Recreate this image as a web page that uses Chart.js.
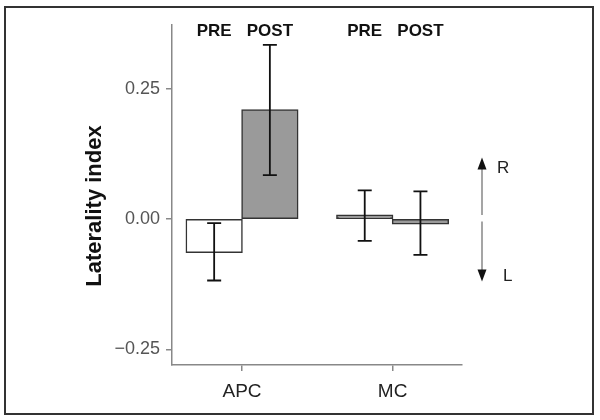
<!DOCTYPE html>
<html>
<head>
<meta charset="utf-8">
<script src="https://cdn.jsdelivr.net/npm/chart.js@4/dist/chart.umd.min.js"></script>
<style>
  html, body { margin: 0; padding: 0; background: #fff; }
  #wrap { position: relative; width: 600px; height: 420px; }
  #frame { position: absolute; left: 4px; top: 6px; width: 590px; height: 409px; box-sizing: border-box; border: 2px solid #333; pointer-events: none; }
  canvas { position: absolute; left: 0; top: 0; }
</style>
</head>
<body>
<div id="wrap">
  <canvas id="c" width="600" height="420"></canvas>
  <div id="frame"></div>
</div>
<script>
// ---- data ----
const categories = ['APC', 'MC'];
const seriesNames = ['PRE', 'POST'];
const preValues = [-0.064, 0.007];
const postValues = [0.209, -0.009];
const preErrLow = [-0.118, -0.042];
const preErrHigh = [-0.008, 0.055];
const postErrLow = [0.084, -0.069];
const postErrHigh = [0.334, 0.053];
const yTickValues = [-0.25, 0, 0.25];
const yTitle = 'Laterality index';
const arrowLabels = ['R', 'L'];

const errLows = [preErrLow, postErrLow];
const errHighs = [preErrHigh, postErrHigh];
const toPoints = vals => vals.map((v, i) => ({ x: i, y: v }));

const FONT = "'Liberation Sans', Arial, sans-serif";

const errorBarPlugin = {
  id: 'errorBars',
  afterDatasetsDraw(chart) {
    const ctx = chart.ctx;
    const ys = chart.scales.y;
    ctx.save();
    ctx.strokeStyle = '#111';
    ctx.lineWidth = 1.8;
    chart.data.datasets.forEach((ds, di) => {
      const meta = chart.getDatasetMeta(di);
      meta.data.forEach((el, i) => {
        const x = el.x;
        const yl = ys.getPixelForValue(errLows[di][i]);
        const yh = ys.getPixelForValue(errHighs[di][i]);
        const cap = 7;
        ctx.beginPath();
        ctx.moveTo(x, yl); ctx.lineTo(x, yh);
        ctx.moveTo(x - cap, yl); ctx.lineTo(x + cap, yl);
        ctx.moveTo(x - cap, yh); ctx.lineTo(x + cap, yh);
        ctx.stroke();
      });
    });
    ctx.restore();
  }
};

const annotPlugin = {
  id: 'annot',
  afterDraw(chart) {
    const ctx = chart.ctx;
    const ys = chart.scales.y;
    const area = chart.chartArea;
    ctx.save();
    // PRE / POST labels above each bar
    ctx.fillStyle = '#111';
    ctx.font = 'bold 17px ' + FONT;
    ctx.textAlign = 'center';
    ctx.textBaseline = 'middle';
    chart.data.datasets.forEach((ds, di) => {
      chart.getDatasetMeta(di).data.forEach(el => {
        ctx.fillText(ds.label, el.x, 31);
      });
    });
    // y axis title
    ctx.save();
    ctx.translate(95, 206);
    ctx.rotate(-Math.PI / 2);
    ctx.font = 'bold 22px ' + FONT;
    ctx.fillStyle = '#111';
    ctx.fillText(yTitle, 0, 0);
    ctx.restore();
    // R / L arrow
    const ax = area.right + 20;
    const yTop = ys.getPixelForValue(0.118);
    const yGapTop = ys.getPixelForValue(0.0077);
    const yGapBot = ys.getPixelForValue(-0.005);
    const yBot = ys.getPixelForValue(-0.12);
    ctx.strokeStyle = '#888';
    ctx.lineWidth = 1.5;
    ctx.beginPath();
    ctx.moveTo(ax, yTop + 8); ctx.lineTo(ax, yGapTop);
    ctx.moveTo(ax, yGapBot); ctx.lineTo(ax, yBot - 8);
    ctx.stroke();
    ctx.fillStyle = '#111';
    ctx.beginPath();
    ctx.moveTo(ax, yTop); ctx.lineTo(ax - 4.5, yTop + 12); ctx.lineTo(ax + 4.5, yTop + 12); ctx.closePath();
    ctx.fill();
    ctx.beginPath();
    ctx.moveTo(ax, yBot); ctx.lineTo(ax - 4.5, yBot - 12); ctx.lineTo(ax + 4.5, yBot - 12); ctx.closePath();
    ctx.fill();
    ctx.font = '17px ' + FONT;
    ctx.fillStyle = '#222';
    ctx.textAlign = 'left';
    ctx.fillText(arrowLabels[0], ax + 15, yTop + 11);
    ctx.fillText(arrowLabels[1], ax + 21, yBot - 5);
    ctx.restore();
  }
};

new Chart(document.getElementById('c'), {
  type: 'bar',
  data: {
    datasets: [
      {
        label: seriesNames[0],
        data: toPoints(preValues),
        backgroundColor: ['#ffffff', '#9a9a9a'],
        borderColor: '#333',
        borderWidth: 1.5,
        borderSkipped: false,
        inflateAmount: 0.75,
        categoryPercentage: 0.74,
        barPercentage: 1.0
      },
      {
        label: seriesNames[1],
        data: toPoints(postValues),
        backgroundColor: '#9a9a9a',
        borderColor: '#333',
        borderWidth: 1.5,
        borderSkipped: false,
        inflateAmount: 0.75,
        categoryPercentage: 0.74,
        barPercentage: 1.0
      }
    ]
  },
  options: {
    responsive: false,
    animation: false,
    devicePixelRatio: 1,
    layout: { padding: { left: 0, top: 25, right: 138, bottom: 0 } },
    plugins: { legend: { display: false }, tooltip: { enabled: false }, title: { display: false } },
    scales: {
      x: {
        type: 'linear',
        min: -0.465,
        max: 1.461,
        offset: false,
        afterBuildTicks(scale) { scale.ticks = categories.map((c, i) => ({ value: i })); },
        grid: { offset: false, drawOnChartArea: false, drawTicks: true, tickLength: 6, color: '#888', lineWidth: 1.5 },
        border: { display: true, color: '#888', width: 1.5 },
        ticks: {
          font: { family: FONT, size: 19 }, color: '#222', padding: 9,
          callback(v) { return categories[v]; }
        },
        afterFit(scale) { scale.height = 55; }
      },
      y: {
        min: -0.28,
        max: 0.372,
        afterBuildTicks(scale) { scale.ticks = yTickValues.map(v => ({ value: v })); },
        grid: { drawOnChartArea: false, drawTicks: true, tickLength: 6, color: '#888', lineWidth: 1.5 },
        border: { display: true, color: '#888', width: 1.5 },
        ticks: {
          font: { family: FONT, size: 18 },
          color: '#555',
          padding: 6,
          callback(v) { return v === 0 ? '0.00' : (v < 0 ? '\u2212' : '') + Math.abs(v).toFixed(2); }
        },
        afterFit(scale) { scale.width = 172; }
      }
    }
  },
  plugins: [errorBarPlugin, annotPlugin]
});
</script>
</body>
</html>
